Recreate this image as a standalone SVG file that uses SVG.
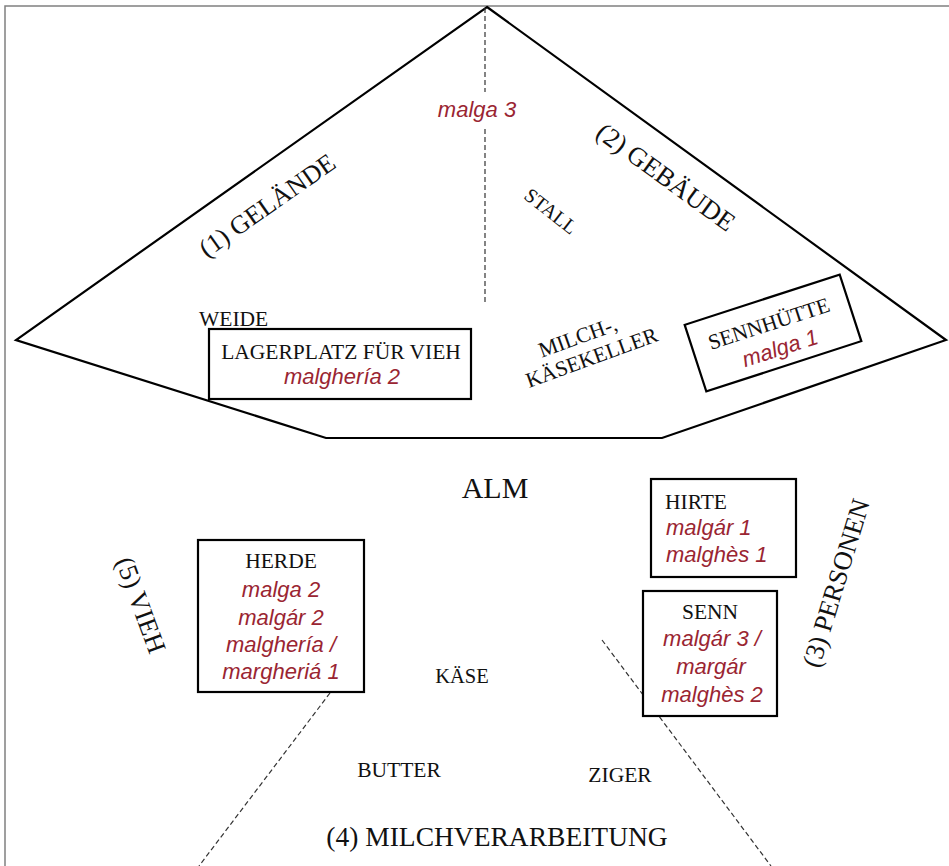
<svg xmlns="http://www.w3.org/2000/svg" width="949" height="866" viewBox="0 0 949 866">
<style>
  .frame { fill: none; stroke: #808080; stroke-width: 1.5; }
  .shape { fill: #ffffff; stroke: #000000; stroke-width: 2.2; stroke-linejoin: miter; }
  .box { fill: #ffffff; stroke: #000000; stroke-width: 2.2; }
  .dash { fill: none; stroke: #333333; stroke-width: 1.2; stroke-dasharray: 5 3; }
  .lbl { font-family: "Liberation Serif", "Times New Roman", serif; fill: #111111; }
  .red { font-family: "Liberation Sans", Arial, sans-serif; font-style: italic; fill: #9a2532; font-size: 22px; }
  .c { text-anchor: middle; }
</style>
<rect x="0" y="0" width="949" height="866" fill="#ffffff"/>
<path class="frame" d="M5,866 V6 H949"/>

<g id="alm-shape">
  <polygon class="shape" points="487,7 946,340 662,438 326,438 16,340"/>
</g>

<g id="connectors">
  <line class="dash" x1="485" y1="8" x2="485" y2="92"/>
  <line class="dash" x1="485" y1="129" x2="485" y2="304"/>
  <line class="dash" x1="330" y1="693" x2="199" y2="866"/>
  <line class="dash" x1="602" y1="640" x2="771" y2="866"/>
</g>

<g id="malga3">
  <text class="red c" x="477" y="117">malga 3</text>
</g>

<g id="gelaende" transform="translate(267,205) rotate(-35)">
  <text class="lbl c" x="0" y="9" font-size="26">(1) GELÄNDE</text>
</g>

<g id="gebaeude" transform="translate(666,177) rotate(36)">
  <text class="lbl c" x="0" y="9" font-size="26.5">(2) GEBÄUDE</text>
</g>

<g id="stall" transform="translate(551,211) rotate(38)">
  <text class="lbl c" x="0" y="7" font-size="20">STALL</text>
</g>

<g id="weide">
  <text class="lbl" x="199" y="326" font-size="21.5">WEIDE</text>
</g>

<g id="lagerplatz">
  <rect class="box" x="209" y="329" width="262" height="70"/>
  <text class="lbl c" x="341" y="359" font-size="21.5">LAGERPLATZ FÜR VIEH</text>
  <text class="red c" x="342" y="384">malghería 2</text>
</g>

<g id="keller" transform="translate(590,353) rotate(-20)">
  <text class="lbl c" x="-6" y="-12" font-size="21.5">MILCH-,</text>
  <text class="lbl c" x="0" y="12" font-size="21.5">KÄSEKELLER</text>
</g>

<g id="sennhuette" transform="translate(773,333) rotate(-18)">
  <rect class="box" x="-81.5" y="-35" width="163" height="70"/>
  <text class="lbl c" x="-1" y="-3" font-size="21.5">SENNHÜTTE</text>
  <text class="red c" x="2" y="24">malga 1</text>
</g>

<g id="alm">
  <text class="lbl c" x="495" y="498" font-size="30">ALM</text>
</g>

<g id="hirte">
  <rect class="box" x="651" y="479" width="145" height="98"/>
  <text class="lbl" x="665" y="509" font-size="21.5">HIRTE</text>
  <text class="red" x="666" y="535">malgár 1</text>
  <text class="red" x="666" y="562">malghès 1</text>
</g>

<g id="senn">
  <rect class="box" x="643" y="591" width="134" height="125"/>
  <text class="lbl c" x="710" y="619" font-size="21.5">SENN</text>
  <text class="red c" x="712" y="646">malgár 3 /</text>
  <text class="red c" x="711" y="674">margár</text>
  <text class="red c" x="712" y="702">malghès 2</text>
</g>

<g id="personen" transform="translate(836,583) rotate(-73)">
  <text class="lbl c" x="0" y="9" font-size="26.5">(3) PERSONEN</text>
</g>

<g id="vieh" transform="translate(141,605) rotate(70)">
  <text class="lbl c" x="0" y="9" font-size="26.5">(5) VIEH</text>
</g>

<g id="herde">
  <rect class="box" x="198" y="540" width="166" height="152"/>
  <text class="lbl c" x="281" y="568" font-size="21.5">HERDE</text>
  <text class="red c" x="281" y="597">malga 2</text>
  <text class="red c" x="281" y="625">malgár 2</text>
  <text class="red c" x="281" y="652">malghería /</text>
  <text class="red c" x="281" y="679">margheriá 1</text>
</g>

<g id="kaese">
  <text class="lbl c" x="462" y="683" font-size="20.5">KÄSE</text>
</g>

<g id="butter">
  <text class="lbl c" x="399" y="777" font-size="21.5">BUTTER</text>
</g>

<g id="ziger">
  <text class="lbl c" x="620" y="782" font-size="21.5">ZIGER</text>
</g>

<g id="milchverarbeitung">
  <text class="lbl c" x="497" y="846" font-size="27.5">(4) MILCHVERARBEITUNG</text>
</g>
</svg>
